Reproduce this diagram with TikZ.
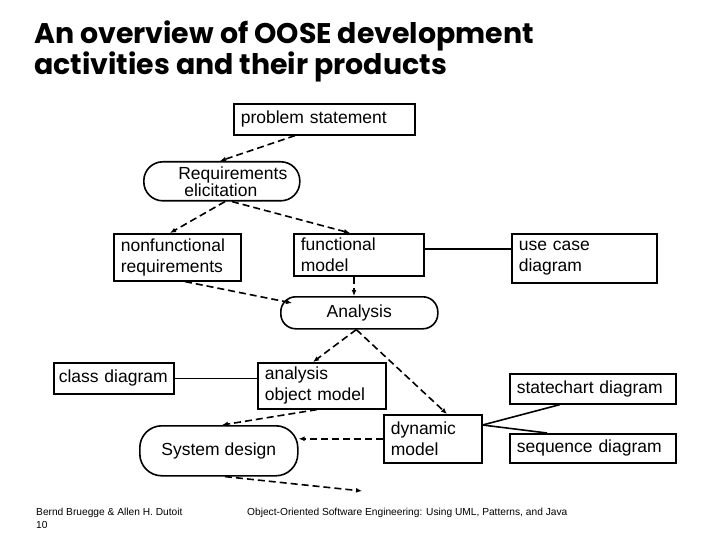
\documentclass[tikz,border=0pt]{standalone}
\usepackage{fontspec}
\setmainfont{Liberation Sans}
\newfontfamily\titlefont{Poppins}
\usetikzlibrary{arrows.meta}

\newcommand{\boxfont}{\fontsize{17.5}{21}\selectfont}

\tikzset{
  box/.style={draw, line width=1.6pt, anchor=north west, align=left,
    inner xsep=7pt, inner ysep=0pt, font=\boxfont},
  activity/.style={draw, line width=1.6pt, anchor=north west, align=center,
    rounded corners=#1, inner sep=0pt, font=\boxfont},
  flow/.style={-{Latex[length=6pt,width=5pt]}, line width=1.6pt,
    dash pattern=on 7pt off 4pt},
  assoc/.style={line width=1.6pt},
  heading/.style={anchor=base west, inner sep=0pt,
    font=\titlefont\bfseries\fontsize{28.4}{32}\selectfont},
  foot/.style={anchor=base west, inner sep=0pt, font=\fontsize{10.2}{12}\selectfont},
}

\begin{document}
\begin{tikzpicture}[x=1pt, y=-1pt]
  \useasboundingbox (0,0) rectangle (720,540);

  % title
  \node[heading] (title1) at (34,44) {An overview of OOSE development};
  \node[heading] (title2) at (34,75) {activities and their products};

  % requirements
  \node[box, text width=167pt, minimum height=31pt] (prob) at (233,103) {problem statement};
  \node[activity=19pt, minimum width=156pt, minimum height=39pt, align=left,
    font=\fontsize{17.5}{17}\selectfont] (elic) at (143,161)
    {\hspace*{22pt}Requirements\\\hspace*{28pt}elicitation};
  \node[box, text width=113pt, minimum height=47pt] (nonfun) at (113,233) {nonfunctional\\requirements};
  \node[box, text width=116pt, minimum height=42pt] (funmod) at (293,233) {functional\\model};
  \node[box, text width=131pt, minimum height=49pt] (usecase) at (511,233) {use case\\diagram};

  % analysis
  \node[activity=15pt, minimum width=157pt, minimum height=32pt] (anal) at (280,296) {Analysis};
  \node[box, text width=110pt, inner xsep=5pt, minimum height=31pt] (classd) at (53,362) {class diagram};
  \node[box, text width=114pt, minimum height=46pt] (objmod) at (257,362) {analysis\\object model};
  \node[box, text width=152pt, minimum height=30pt] (statec) at (509,373) {statechart diagram};
  \node[box, text width=84pt, minimum height=48pt] (dynmod) at (383,414) {dynamic\\model};
  \node[box, text width=152pt, minimum height=29pt] (seqd) at (509,433) {sequence diagram};

  % system design
  \node[activity=22pt, minimum width=158pt, minimum height=50pt] (sysdes) at (139,425) {System design};
  \coordinate (next) at (362,491);

  % flows
  \draw[flow] ([xshift=62pt]prob.south west) -- ([xshift=77pt]elic.north west);
  \draw[flow] ([xshift=82pt]elic.south west) -- ([xshift=57pt]nonfun.north west);
  \draw[flow] ([xshift=89pt]elic.south west) -- ([xshift=57pt]funmod.north west);
  \draw[flow] ([xshift=61pt]funmod.south west) -- ([xshift=74pt]anal.north west);
  \draw[flow] ([xshift=72pt]nonfun.south west) -- ([shift={(12pt,-7pt)}]anal.north west);
  \draw[flow] ([xshift=-3pt]anal.south) -- ([xshift=56pt]objmod.north west);
  \draw[flow] ([xshift=-3pt]anal.south) -- ([xshift=64pt]dynmod.north west);
  \draw[flow] ([xshift=60pt]objmod.south west) -- ([xshift=83pt]sysdes.north west);
  \draw[flow] (dynmod.west) -- (dynmod.west -| sysdes.east);
  \draw[flow] ([xshift=86pt]sysdes.south west) -- (next);

  % associations
  \draw[assoc] ([yshift=6pt]funmod.east) -- ([yshift=6pt]funmod.east -| usecase.west);
  \draw[assoc] (classd.east) -- (classd.east -| objmod.west);
  \draw[assoc] ([yshift=-11pt]dynmod.north east) -- ([xshift=51pt]statec.south west);
  \draw[assoc] ([yshift=-11pt]dynmod.north east) -- ([xshift=38pt]seqd.north west);

  % footer
  \node[foot] (author) at (36,515) {Bernd Bruegge \& Allen H. Dutoit};
  \node[foot] (page) at (36,528) {10};
  \node[foot] (book) at (247,515) {Object-Oriented Software Engineering: Using UML, Patterns, and Java};
\end{tikzpicture}
\end{document}
